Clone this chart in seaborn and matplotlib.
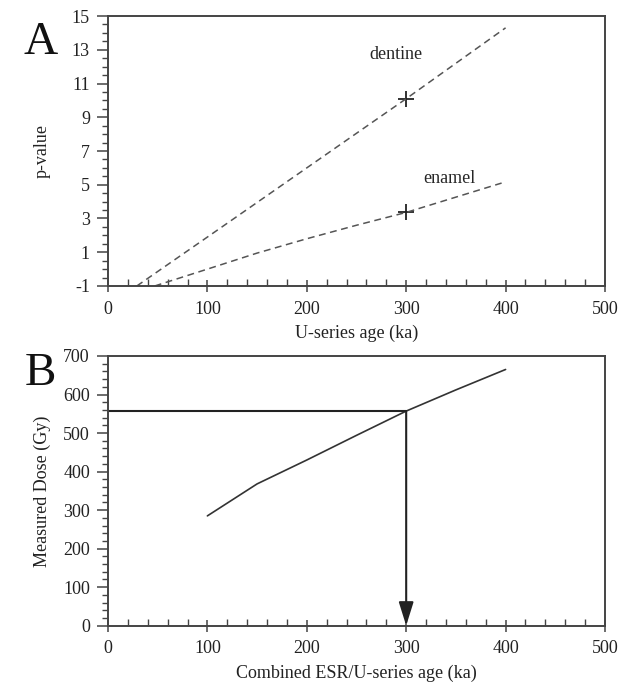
import numpy as np
import pandas as pd
import matplotlib
matplotlib.use("Agg")
import matplotlib.pyplot as plt
from matplotlib.ticker import MultipleLocator
import seaborn as sns

# ---- data ----
dentine_age = [29, 100, 200, 300, 400]
dentine_p = [-1.0, 1.9, 6.0, 10.1, 14.3]
enamel_age = [47, 100, 150, 200, 250, 300, 396]
enamel_p = [-1.0, 0.0, 0.95, 1.8, 2.6, 3.36, 5.1]
point_age = [300, 300]
point_p = [10.1, 3.36]

dose_age = [100, 150, 200, 250, 300, 350, 400]
dose_gy = [285, 368, 430, 494, 557, 612, 665]
result_age = 300
result_dose = 557

sns.set_theme(style="ticks")
plt.rcParams['font.family'] = ['Liberation Serif', 'DejaVu Serif']
plt.rcParams['axes.unicode_minus'] = False

fig = plt.figure(figsize=(6.21, 6.85), dpi=100)
axA = fig.add_axes([0.1739, 0.5825, 0.8003, 0.3941])
axB = fig.add_axes([0.1739, 0.0866, 0.8003, 0.3937])

lc = '#333333'
fs = 13

dfd = pd.DataFrame({'age': dentine_age, 'p': dentine_p})
dfe = pd.DataFrame({'age': enamel_age, 'p': enamel_p})
sns.lineplot(data=dfd, x='age', y='p', ax=axA, color='#555555', lw=1.1,
             linestyle=(0, (4.5, 3)))
sns.lineplot(data=dfe, x='age', y='p', ax=axA, color='#555555', lw=1.1,
             linestyle=(0, (4.5, 3)))
sns.scatterplot(x=point_age, y=point_p, ax=axA, marker='+', s=120,
                color='#222222', linewidth=1.3)
axA.text(290, 12.7, 'dentine', ha='center', va='center', fontsize=fs)
axA.text(343, 5.4, 'enamel', ha='center', va='center', fontsize=fs)
axA.set_xlim(0, 500)
axA.set_ylim(-1, 15)
axA.yaxis.set_minor_locator(MultipleLocator(0.5))
axA.set_yticks(np.arange(-1, 16, 2))
axA.set_xlabel('U-series age (ka)', fontsize=fs, labelpad=5)
axA.set_ylabel('p-value', fontsize=fs, labelpad=15)

dfb = pd.DataFrame({'age': dose_age, 'dose': dose_gy})
sns.lineplot(data=dfb, x='age', y='dose', ax=axB, color=lc, lw=1.2)
axB.plot([0, result_age], [result_dose, result_dose], color='#222222', lw=1.5)
axB.annotate('', xy=(result_age, 0), xytext=(result_age, result_dose),
             arrowprops=dict(arrowstyle='-|>,head_length=0.8,head_width=0.25',
                             color='#222222', lw=1.5,
                             mutation_scale=18, shrinkA=0, shrinkB=0))
axB.set_xlim(0, 500)
axB.set_ylim(0, 700)
axB.yaxis.set_major_locator(MultipleLocator(100))
axB.yaxis.set_minor_locator(MultipleLocator(20))
axB.set_xlabel('Combined ESR/U-series age (ka)', fontsize=fs, labelpad=5)
axB.set_ylabel('Measured Dose (Gy)', fontsize=fs, labelpad=9)

for ax in (axA, axB):
    ax.xaxis.set_major_locator(MultipleLocator(100))
    ax.xaxis.set_minor_locator(MultipleLocator(20))
    for s in ax.spines.values():
        s.set_visible(True)
        s.set_color('#444444')
        s.set_linewidth(1.4)
    ax.tick_params(axis='x', which='major', direction='inout', length=9,
                   width=1.1, color='#444444', labelsize=fs, pad=6)
    ax.tick_params(axis='x', which='minor', direction='in', length=5,
                   width=1.0, color='#444444')
    ax.tick_params(axis='y', which='major', direction='out', length=8,
                   width=1.1, color='#444444', labelsize=fs, pad=5)
    ax.tick_params(axis='y', which='minor', direction='out', length=4,
                   width=1.0, color='#444444')
    ax.tick_params(top=False, right=False, which='both')
    ax.xaxis.label.set_color('#222222')
    ax.yaxis.label.set_color('#222222')
    for t in ax.get_xticklabels() + ax.get_yticklabels():
        t.set_color('#222222')
    ax.grid(False)

fig.text(0.065, 0.938, 'A', fontsize=34, ha='center', va='center', color='#111111')
fig.text(0.065, 0.455, 'B', fontsize=34, ha='center', va='center', color='#111111')

fig.savefig('out.png', dpi=100)
